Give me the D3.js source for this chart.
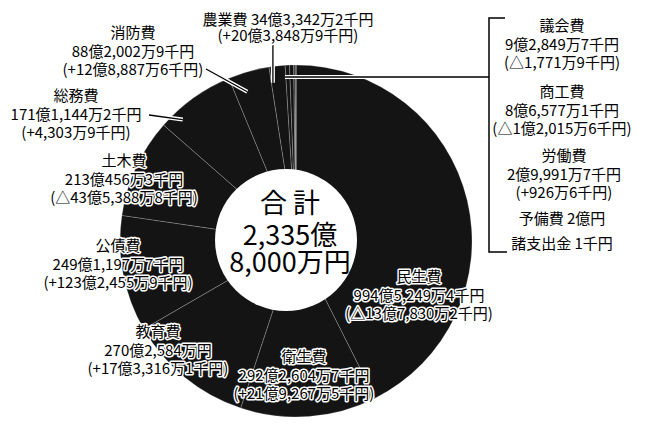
<!DOCTYPE html>
<html>
<head>
<meta charset="utf-8">
<script src="https://cdn.jsdelivr.net/npm/d3@7"></script>
<style>
  body { margin: 0; background: #fff; }
  svg { display: block; font-family: "Noto Sans CJK JP", "Noto Sans", sans-serif; }
</style>
</head>
<body>
<svg id="chart" width="646" height="425"></svg>
<script>
// 歳出（万円）
const names = ["民生費", "衛生費", "教育費", "公債費", "土木費", "総務費", "消防費", "農業費", "議会費", "商工費", "労働費", "予備費", "諸支出金"]
const values = [9945249.4, 2922604.7, 2702584.0, 2491197.7, 2130456.3, 1711144.2, 882002.9, 343342.2, 92849.7, 86577.1, 29991.7, 20000, 0.1]
const amounts = ["994億5,249万4千円", "292億2,604万7千円", "270億2,584万円", "249億1,197万7千円", "213億456万3千円", "171億1,144万2千円", "88億2,002万9千円", "34億3,342万2千円", "9億2,849万7千円", "8億6,577万1千円", "2億9,991万7千円", "2億円", "1千円"]
const changes = ["(△13億7,830万2千円)", "(+21億9,267万5千円)", "(+17億3,316万1千円)", "(+123億2,455万9千円)", "(△43億5,388万8千円)", "(+4,303万9千円)", "(+12億8,887万6千円)", "(+20億3,848万9千円)", "(△1,771万9千円)", "(△1億2,015万6千円)", "(+926万6千円)", null, null]
const totalLines = ["合 計", "2,335億", "8,000万円"]

// label placement
const labelPos = {
  "民生費": { x: 419, y: 282 },
  "衛生費": { x: 304, y: 362 },
  "教育費": { x: 158, y: 337 },
  "公債費": { x: 118, y: 251 },
  "土木費": { x: 124, y: 166 },
  "総務費": { x: 76, y: 101 },
  "消防費": { x: 133, y: 38 },
  "農業費": { x: 288, y: 25, inline: true },
  "議会費": { x: 562, y: 31 },
  "商工費": { x: 562, y: 97 },
  "労働費": { x: 564, y: 161 },
  "予備費": { x: 562, y: 224, inline: true },
  "諸支出金": { x: 562, y: 249, inline: true }
}
const leaders = [
  { name: "消防費", x: 206, y: 69, t: 0.32, r: 157 },
  { name: "総務費", x: 149, y: 115, t: 0.22, r: 166 },
  { name: "農業費", x: null, y: 45, t: 0.1, r: 160 }
]

const svg = d3.select("#chart")
const cx = 296, cy = 241, R = 176

const pie = d3.pie().sort(null).value((d) => d.value)
const arcs = pie(names.map((n, i) => ({ name: n, value: values[i] })))
const arc = d3.arc().innerRadius(0).outerRadius(R)

const g = svg.append("g").attr("transform", `translate(${cx},${cy})`)

g.selectAll("path")
  .data(arcs)
  .enter()
  .append("path")
  .attr("d", arc)
  .attr("fill", "#141414")
  .attr("stroke", "#fff")
  .attr("stroke-opacity", 0.35)
  .attr("stroke-width", 0.6)

// hole
svg.append("circle")
  .attr("cx", cx - 10)
  .attr("cy", cy - 1)
  .attr("r", 71)
  .attr("fill", "#fff")

function polar(a, r) {
  return [cx + Math.sin(a) * r, cy - Math.cos(a) * r]
}

// leader lines
const leaderG = svg.append("g")
leaders.forEach((l) => {
  const d = arcs.find((a) => a.data.name === l.name)
  const a = d.startAngle + (d.endAngle - d.startAngle) * l.t
  const [ex, ey] = polar(a, l.r)
  const sx = l.x === null ? ex : l.x
  leaderG.append("line")
    .attr("x1", sx).attr("y1", l.y).attr("x2", ex).attr("y2", ey)
    .attr("stroke", "#fff").attr("stroke-width", 4)
  leaderG.append("line")
    .attr("x1", sx).attr("y1", l.y).attr("x2", ex).attr("y2", ey)
    .attr("stroke", "#000").attr("stroke-width", 1.3)
})

// bracket for small items
const small = arcs.slice(8)
const smallMid = (small[0].startAngle + small[small.length - 1].endAngle) / 2
const [bx, by] = polar(smallMid, 164)
const bracketX = 489
leaderG.append("line")
  .attr("x1", bracketX).attr("y1", by).attr("x2", bx - 6).attr("y2", by)
  .attr("stroke", "#fff").attr("stroke-width", 4)
leaderG.append("path")
  .attr("d", `M${bracketX},${by}H${bx - 6}M505,18H${bracketX}V252H507`)
  .attr("fill", "none")
  .attr("stroke", "#000")
  .attr("stroke-width", 1.5)

// labels
const labelG = svg.append("g")
  .attr("font-size", 15)
  .attr("text-anchor", "middle")
  .attr("fill", "#000")

names.forEach((n, i) => {
  const p = labelPos[n]
  let lines
  if (p.inline) lines = [n + " " + amounts[i]]
  else lines = [n, amounts[i]]
  if (changes[i]) lines.push(changes[i])
  const offs = p.inline ? [0, 16] : [0, 19, 37]
  lines.forEach((t, j) => {
    labelG.append("text")
      .attr("x", p.x)
      .attr("y", p.y + offs[j])
      .attr("stroke", "#fff")
      .attr("stroke-width", 3)
      .attr("stroke-linejoin", "round")
      .attr("paint-order", "stroke")
      .text(t)
  })
})

// total in the middle
svg.append("g")
  .attr("text-anchor", "middle")
  .attr("font-size", 27)
  .selectAll("text")
  .data(totalLines)
  .enter()
  .append("text")
  .attr("x", 290)
  .attr("y", (d, i) => [213, 245, 272][i])
  .text((d) => d)
</script>
</body>
</html>
